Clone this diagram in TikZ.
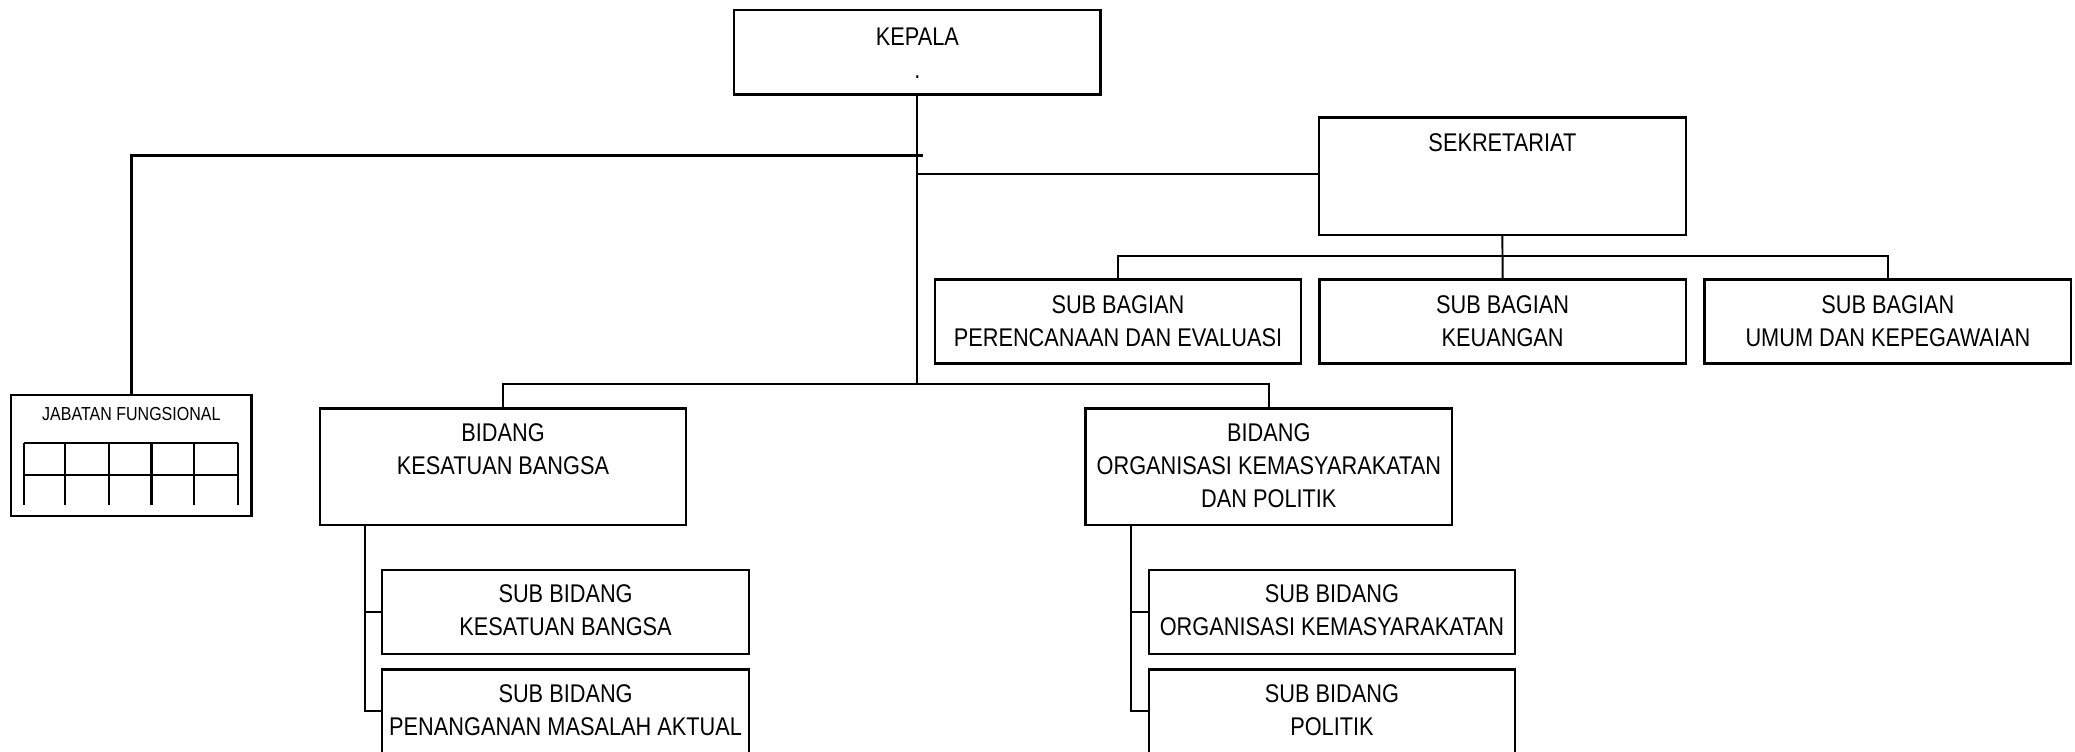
\documentclass[tikz,border=0pt]{standalone}
\usepackage{fontspec}
\setmainfont{Liberation Sans}[FakeStretch=0.85]
\begin{document}
\begin{tikzpicture}[x=0.1mm,y=-0.1mm,
  box/.style={draw, line width=0.5pt, inner sep=0pt, rectangle},
  wide/.style={minimum width=27.7mm},
  lbl/.style={font=\fontsize{5.5pt}{7.1pt}\selectfont, align=center, anchor=base, inner sep=0pt},
  small/.style={font=\fontsize{4.05pt}{4.8pt}\selectfont, anchor=base, inner sep=0pt},
  conn/.style={line width=0.42pt},
  boldconn/.style={line width=0.6pt},
  grid/.style={line width=0.45pt}]
\useasboundingbox (0,0) rectangle (1568,568.2);
% ---------- boxes ----------
\node[box, wide, minimum height=6.37mm] (kepala) at (693.2,39.45) {};
\node[box, wide, minimum height=8.89mm] (sekr) at (1135.3,133.15) {};
\node[box, wide, minimum height=6.35mm] (sb1) at (844.8,242.85) {};
\node[box, wide, minimum height=6.35mm] (sb2) at (1135.5,242.85) {};
\node[box, wide, minimum height=6.35mm] (sb3) at (1426.6,242.85) {};
\node[box, wide, minimum height=8.81mm] (bkb) at (380.1,352.65) {};
\node[box, wide, minimum height=8.81mm] (bokp) at (958.8,352.65) {};
\node[box, wide, minimum height=6.35mm] (sbkb) at (427.4,462.45) {};
\node[box, wide, minimum height=8mm] (sbpma) at (427.4,545.8) {};
\node[box, wide, minimum height=6.35mm] (sbokm) at (1006.5,462.45) {};
\node[box, wide, minimum height=8mm] (sbpol) at (1006.5,545.8) {};
\node[box, minimum width=18.15mm, minimum height=9.15mm] (jab) at (99.25,344.25) {};
% ---------- texts (anchored at the baseline of the last line) ----------
\node[lbl] (kepala-t) at (693.2,59) {KEPALA\\.};
\node[lbl] (sekr-t) at (1135.3,114.6) {SEKRETARIAT};
\node[lbl] (sb1-t) at (844.8,261.8) {SUB BAGIAN\\PERENCANAAN DAN EVALUASI};
\node[lbl] (sb2-t) at (1135.5,261.8) {SUB BAGIAN\\KEUANGAN};
\node[lbl] (sb3-t) at (1426.6,261.8) {SUB BAGIAN\\UMUM DAN KEPEGAWAIAN};
\node[lbl] (bkb-t) at (380.1,358.8) {BIDANG\\KESATUAN BANGSA};
\node[lbl] (bokp-t) at (958.8,383.8) {BIDANG\\ORGANISASI KEMASYARAKATAN\\DAN POLITIK};
\node[lbl] (sbkb-t) at (427.4,480.4) {SUB BIDANG\\KESATUAN BANGSA};
\node[lbl] (sbpma-t) at (427.4,555.5) {SUB BIDANG\\PENANGANAN MASALAH AKTUAL};
\node[lbl] (sbokm-t) at (1006.5,480.4) {SUB BIDANG\\ORGANISASI KEMASYARAKATAN};
\node[lbl] (sbpol-t) at (1006.5,555.5) {SUB BIDANG\\POLITIK};
\node[small] (jab-t) at (99.25,317.9) {JABATAN FUNGSIONAL};
% ---------- grid inside JABATAN FUNGSIONAL ----------
\draw[grid] (18.1,335) -- (179.7,335) (18.1,359) -- (179.7,359);
\foreach \gx in {18.1,49.4,82.1,114.5,146.9,179.7}
  \draw[grid] (\gx,335) -- (\gx,381.6);
% ---------- connectors ----------
\coordinate (bbar) at (693.2,290.9);
\coordinate (jR) at (697.7,117.6);
\coordinate (s0) at (693.2,131.2);
\coordinate (k0) at (275.7,396.7);
\coordinate (o0) at (854.4,396.7);
\draw[conn] (kepala.south) -- (bbar);
\draw[boldconn] (jab.north) |- (jR);
\draw[conn] (s0) -- (s0 -| sekr.west);
\draw[conn] (sekr.south) -- (sb2.north);
\draw[conn] (sb1.north) -- ++(0,-17.1) -| (sb3.north);
\draw[conn] (bkb.north) -- ++(0,-17.7) -| (bokp.north);
\draw[conn] (k0) |- (sbpma.west |- 0,537.3);
\draw[conn] (sbkb.west) -- (sbkb.west -| k0);
\draw[conn] (o0) |- (sbpol.west |- 0,537.3);
\draw[conn] (sbokm.west) -- (sbokm.west -| o0);
\end{tikzpicture}
\end{document}
